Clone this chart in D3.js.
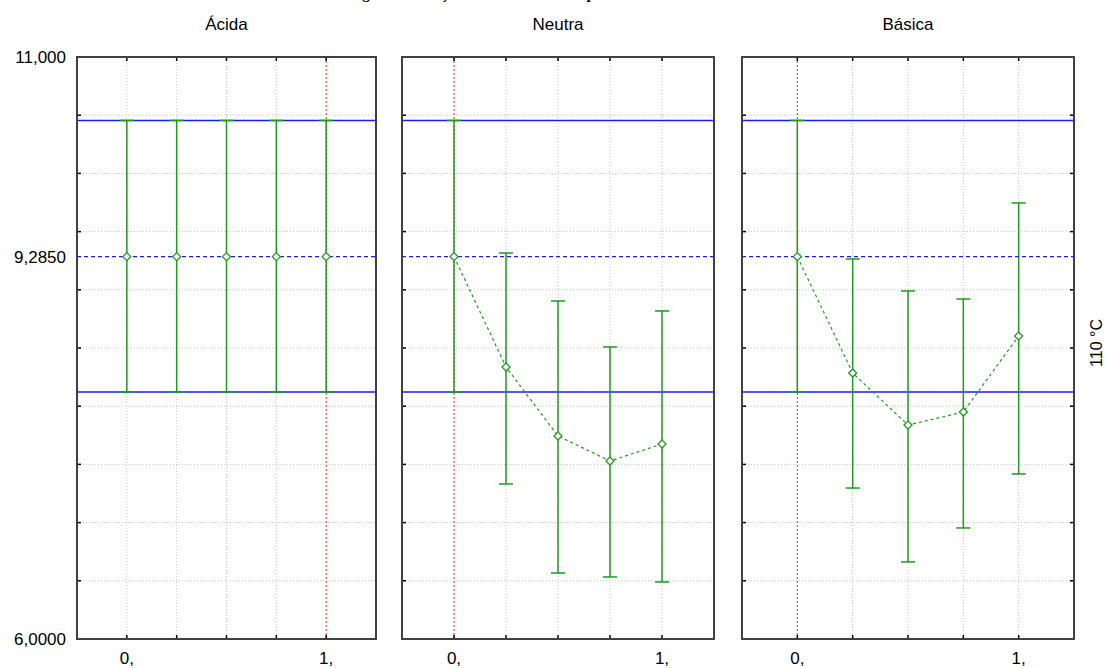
<!DOCTYPE html>
<html><head><meta charset="utf-8">
<script src="https://cdn.jsdelivr.net/npm/d3@7"></script>
<style>body{margin:0;background:#fff;} svg{display:block;}</style>
</head><body>
<svg id="c" width="1105" height="668"></svg>
<script>
// ---- data ----
const panelNames = ["Ácida", "Neutra", "Básica"];
const xLevels = [0, 0.25, 0.5, 0.75, 1];
const xTickValues = [0, 1];
const xTickLabels = ["0,", "1,"];
const yTickValues = [11, 9.285, 6];
const yTickLabels = ["11,000", "9,2850", "6,0000"];
const yGridValues = [6, 6.5, 7, 7.5, 8, 8.5, 9, 9.5, 10, 10.5, 11];
const acidaMean = [9.285, 9.285, 9.285, 9.285, 9.285];
const acidaLow  = [8.122, 8.122, 8.122, 8.122, 8.122];
const acidaHigh = [10.455, 10.455, 10.455, 10.455, 10.455];
const neutraMean = [9.285, 8.337, 7.744, 7.529, 7.675];
const neutraLow  = [8.122, 7.332, 6.567, 6.533, 6.490];
const neutraHigh = [10.455, 9.316, 8.904, 8.509, 8.818];
const basicaMean = [9.285, 8.285, 7.838, 7.950, 8.603];
const basicaLow  = [8.122, 7.297, 6.662, 6.954, 7.418];
const basicaHigh = [10.455, 9.265, 8.990, 8.921, 9.746];
const refMean = 9.285, refLow = 8.122, refHigh = 10.455;
const redLineX = [1, 0, 0];
const sideLabel = "110 °C";
const titleText = "Figura: Interação do meio com a temperatura";

// ---- layout ----
const svg = d3.select("#c");
const plotTop = 57, plotBottom = 639;
const panelBox = [[77, 376], [402, 714], [742, 1074]];
const series = [
  {mean: acidaMean, low: acidaLow, high: acidaHigh, line: false},
  {mean: neutraMean, low: neutraLow, high: neutraHigh, line: true},
  {mean: basicaMean, low: basicaLow, high: basicaHigh, line: true}
];
const y = d3.scaleLinear().domain([6, 11]).range([plotBottom, plotTop]);
const green = "#1f9a1f", blue = "#1a1aff", frame = "#404040";
const font = "'Liberation Sans', Arial, sans-serif";

// title, cut off at the top edge as in the reference
svg.append("text").attr("x", 349).attr("y", -1.5).attr("text-anchor", "start")
  .attr("font-family", "'Liberation Serif', 'Times New Roman', serif").attr("font-weight", "bold")
  .attr("font-size", 15).text(titleText);

panelNames.forEach((name, i) => {
  const [x0, x1] = panelBox[i];
  const x = d3.scaleLinear().domain([-0.25, 1.25]).range([x0, x1]);
  const g = svg.append("g");
  const s = series[i];

  // grid
  g.selectAll(".hg").data(yGridValues).join("line")
    .attr("x1", x0).attr("x2", x1).attr("y1", d => y(d)).attr("y2", d => y(d))
    .attr("stroke", "#c8c8c8").attr("stroke-width", 1).attr("stroke-dasharray", "1,2");
  g.selectAll(".vg").data(xLevels.filter(v => v !== redLineX[i])).join("line")
    .attr("x1", d => x(d)).attr("x2", d => x(d)).attr("y1", plotTop).attr("y2", plotBottom)
    .attr("stroke", "#c8c8c8").attr("stroke-width", 1).attr("stroke-dasharray", "1,2");
  g.append("line").attr("x1", x(redLineX[i])).attr("x2", x(redLineX[i]))
    .attr("y1", plotTop).attr("y2", plotBottom).attr("stroke", "#ff2020").attr("stroke-width", 1)
    .attr("stroke-dasharray", "2,2");

  // reference lines
  [refHigh, refLow].forEach(v => {
    g.append("line").attr("x1", x0).attr("x2", x1).attr("y1", y(v)).attr("y2", y(v))
      .attr("stroke", blue).attr("stroke-width", 1.5);
  });

  // error bars
  const idx = d3.range(xLevels.length);
  g.selectAll(".eb").data(idx).join("line")
    .attr("x1", k => x(xLevels[k])).attr("x2", k => x(xLevels[k]))
    .attr("y1", k => y(s.low[k])).attr("y2", k => y(s.high[k]))
    .attr("stroke", green).attr("stroke-width", 1.5);
  ["low", "high"].forEach(key => {
    g.selectAll(".cap" + key).data(idx).join("line")
      .attr("x1", k => x(xLevels[k]) - 7).attr("x2", k => x(xLevels[k]) + 7)
      .attr("y1", k => y(s[key][k])).attr("y2", k => y(s[key][k]))
      .attr("stroke", green).attr("stroke-width", 1.5);
  });

  // mean line
  if (s.line) {
    g.append("path").datum(idx)
      .attr("d", d3.line().x(k => x(xLevels[k])).y(k => y(s.mean[k])))
      .attr("fill", "none").attr("stroke", green).attr("stroke-width", 1.2)
      .attr("stroke-dasharray", "3,3");
  }
  g.append("line").attr("x1", x0).attr("x2", x1).attr("y1", y(refMean)).attr("y2", y(refMean))
    .attr("stroke", blue).attr("stroke-width", 1.2).attr("stroke-dasharray", "4,3");

  // markers
  g.selectAll(".mk").data(idx).join("path")
    .attr("transform", k => `translate(${x(xLevels[k])},${y(s.mean[k])})`)
    .attr("d", "M0,-4 L4,0 L0,4 L-4,0 Z")
    .attr("fill", "white").attr("stroke", green).attr("stroke-width", 1.3);

  // ticks (inward)
  g.selectAll(".lt").data(yGridValues).join("line")
    .attr("x1", x0).attr("x2", x0 + 4).attr("y1", d => y(d)).attr("y2", d => y(d))
    .attr("stroke", "#000").attr("stroke-width", 1.5);
  if (i === 2) {
    g.selectAll(".rt").data(yGridValues).join("line")
      .attr("x1", x1 - 4).attr("x2", x1).attr("y1", d => y(d)).attr("y2", d => y(d))
      .attr("stroke", "#000").attr("stroke-width", 1.5);
  }
  g.selectAll(".tt").data(xLevels).join("line")
    .attr("x1", d => x(d)).attr("x2", d => x(d)).attr("y1", plotTop).attr("y2", plotTop + 4)
    .attr("stroke", "#000").attr("stroke-width", 1.5);
  g.selectAll(".bt").data(xLevels).join("line")
    .attr("x1", d => x(d)).attr("x2", d => x(d)).attr("y1", plotBottom - 4).attr("y2", plotBottom)
    .attr("stroke", "#000").attr("stroke-width", 1.5);

  // frame
  g.append("rect").attr("x", x0).attr("y", plotTop).attr("width", x1 - x0).attr("height", plotBottom - plotTop)
    .attr("fill", "none").attr("stroke", frame).attr("stroke-width", 2);

  // x labels
  g.selectAll(".xl").data(xTickValues).join("text")
    .attr("x", d => x(d)).attr("y", 664).attr("text-anchor", "middle")
    .attr("font-family", font).attr("font-size", 17).attr("fill", "#000")
    .text((d, k) => xTickLabels[k]);

  // panel title
  const cx = (x0 + x1) / 2;
  g.append("text").attr("x", cx).attr("y", 30).attr("text-anchor", "middle")
    .attr("font-family", font).attr("font-size", 17).attr("fill", "#000")
    .text(name);
});

// y labels
svg.selectAll(".yl").data(yTickValues).join("text")
  .attr("x", 66).attr("y", d => y(d) + 6).attr("text-anchor", "end")
  .attr("font-family", font).attr("font-size", 17).attr("fill", "#000")
  .text((d, k) => yTickLabels[k]);

// side label
svg.append("text").attr("transform", `translate(1102,343) rotate(-90)`)
  .attr("text-anchor", "middle").attr("font-family", font).attr("font-size", 16)
  .attr("fill", "#000").text(sideLabel);
</script>
</body></html>
